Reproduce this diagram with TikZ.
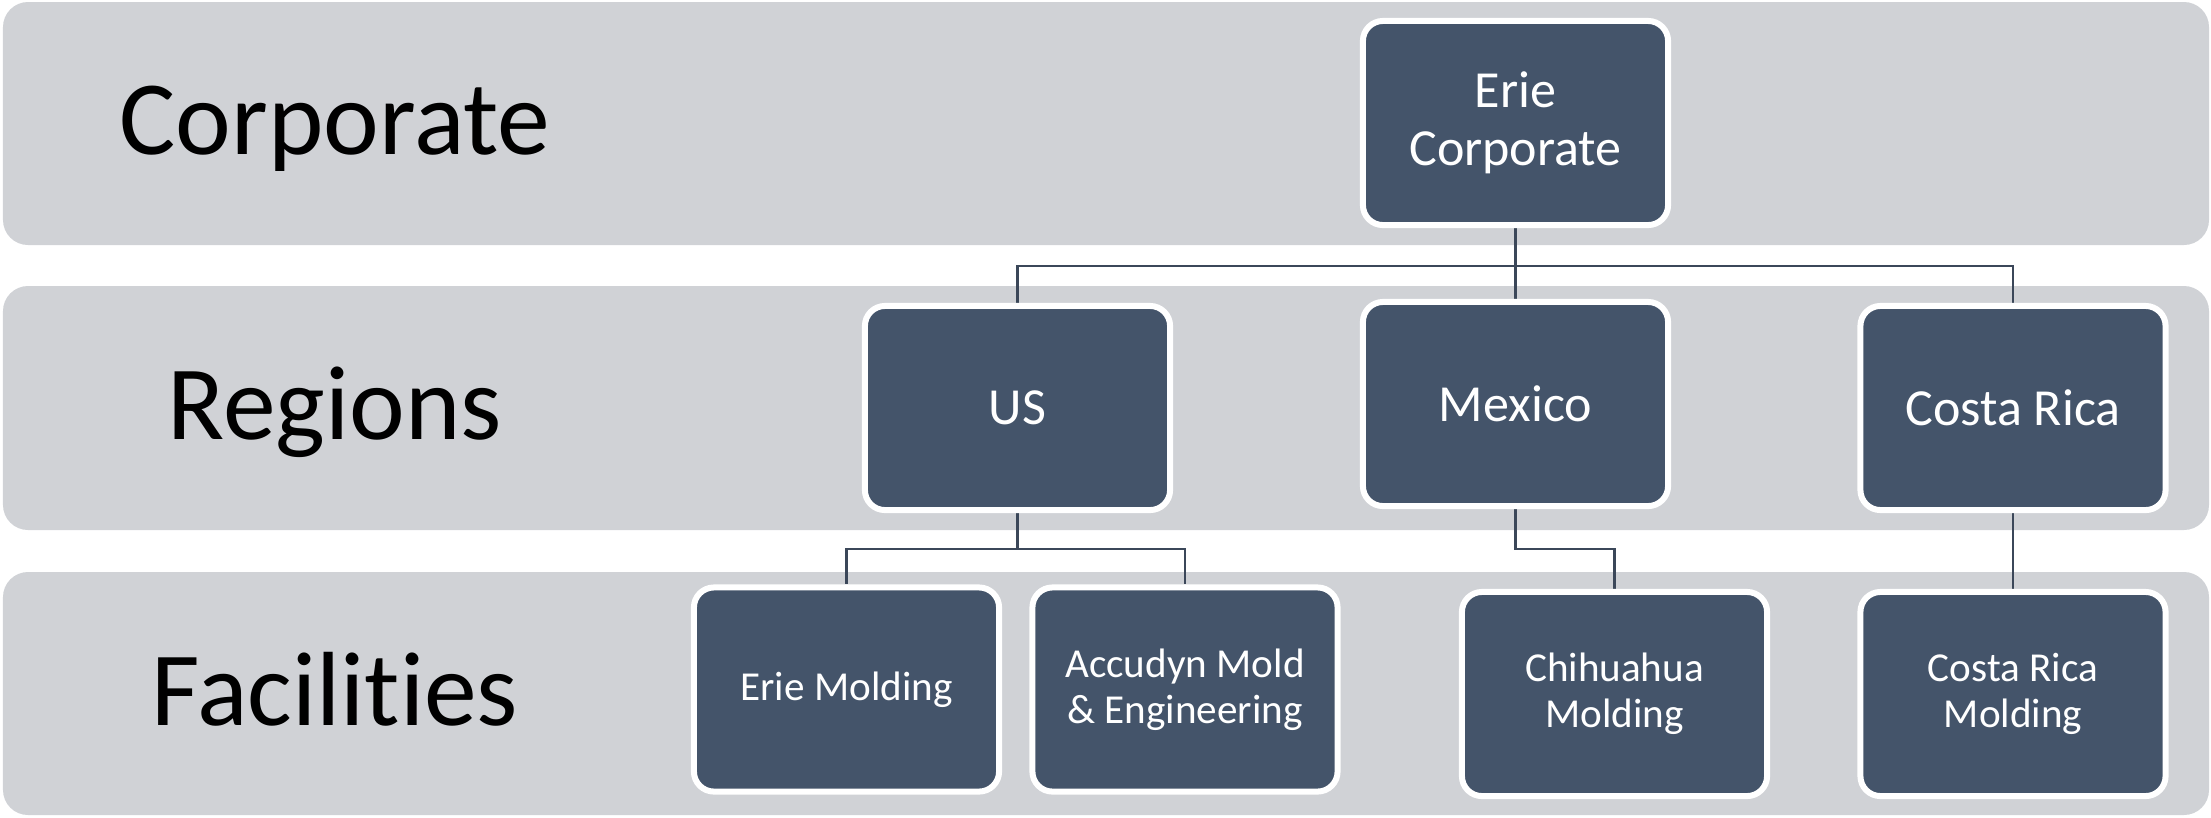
\documentclass[tikz,border=0pt]{standalone}
\usepackage{fontspec}
\setmainfont{Carlito}[Ligatures=NoCommon]
\usepackage{xcolor}
\definecolor{slate}{HTML}{44546A}
\definecolor{mist}{HTML}{D0D2D6}
\definecolor{wire}{HTML}{3B4759}
\usepackage{tikz}
\usetikzlibrary{positioning,backgrounds}

\tikzset{
  band/.style={fill=mist, rounded corners=0.25cm},
  tier/.style={anchor=base, font=\fontsize{30pt}{36pt}\selectfont},
  unit/.style={draw=white, fill=slate, line width=0.06cm, rounded corners=0.2cm,
    minimum width=3.05cm, minimum height=2.04cm, align=center, text=white,
    font=\fontsize{14.8pt}{16.5pt}\selectfont},
  site/.style={unit, font=\fontsize{11.7pt}{13.2pt}\selectfont},
  link/.style={draw=wire, line width=0.025cm}
}

\begin{document}
\begin{tikzpicture}[x=0.01cm, y=-0.01cm]
\useasboundingbox (0,0) rectangle (2211,817);

\node[tier] (lcorp) at (335,154) {Corporate};
\node[tier] (lreg) at (335,439) {Regions};
\node[tier] (lfac) at (335,725) {Facilities};

\node[unit] (corp) at (1515.5,123) {Erie\\Corporate};
\node[unit] (us) at (1017.5,408) {US};
\node[unit] (mex) at (1515.5,404) {Mexico};
\node[unit] (cr) at (2013,408) {Costa Rica};

\node[site] (erie) at (846.5,689.5) {Erie Molding};
\node[site] (accu) at (1185,689.5) {Accudyn Mold\\\& Engineering};
\node[site] (chih) at (1614.5,694) {Chihuahua\\Molding};
\node[site] (crm) at (2013,694) {Costa Rica\\Molding};

\coordinate (bustop) at (1515.5,266);
\coordinate (busus) at (1017.5,549);
\coordinate (busmx) at (1515.5,549);

\begin{scope}[on background layer]
\fill[band] (3,2) rectangle (2209,245);
\fill[band] (3,286) rectangle (2209,530);
\fill[band] (3,572) rectangle (2209,815);

\draw[link] (corp.south) -- (mex.north);
\draw[link] (bustop) -| (us.north);
\draw[link] (bustop) -| (cr.north);
\draw[link] (us.south) -- (busus) -| (erie.north);
\draw[link] (busus) -| (accu.north);
\draw[link] (mex.south) -- (busmx) -| (chih.north);
\draw[link] (cr.south) -- (crm.north);
\end{scope}

\end{tikzpicture}
\end{document}
